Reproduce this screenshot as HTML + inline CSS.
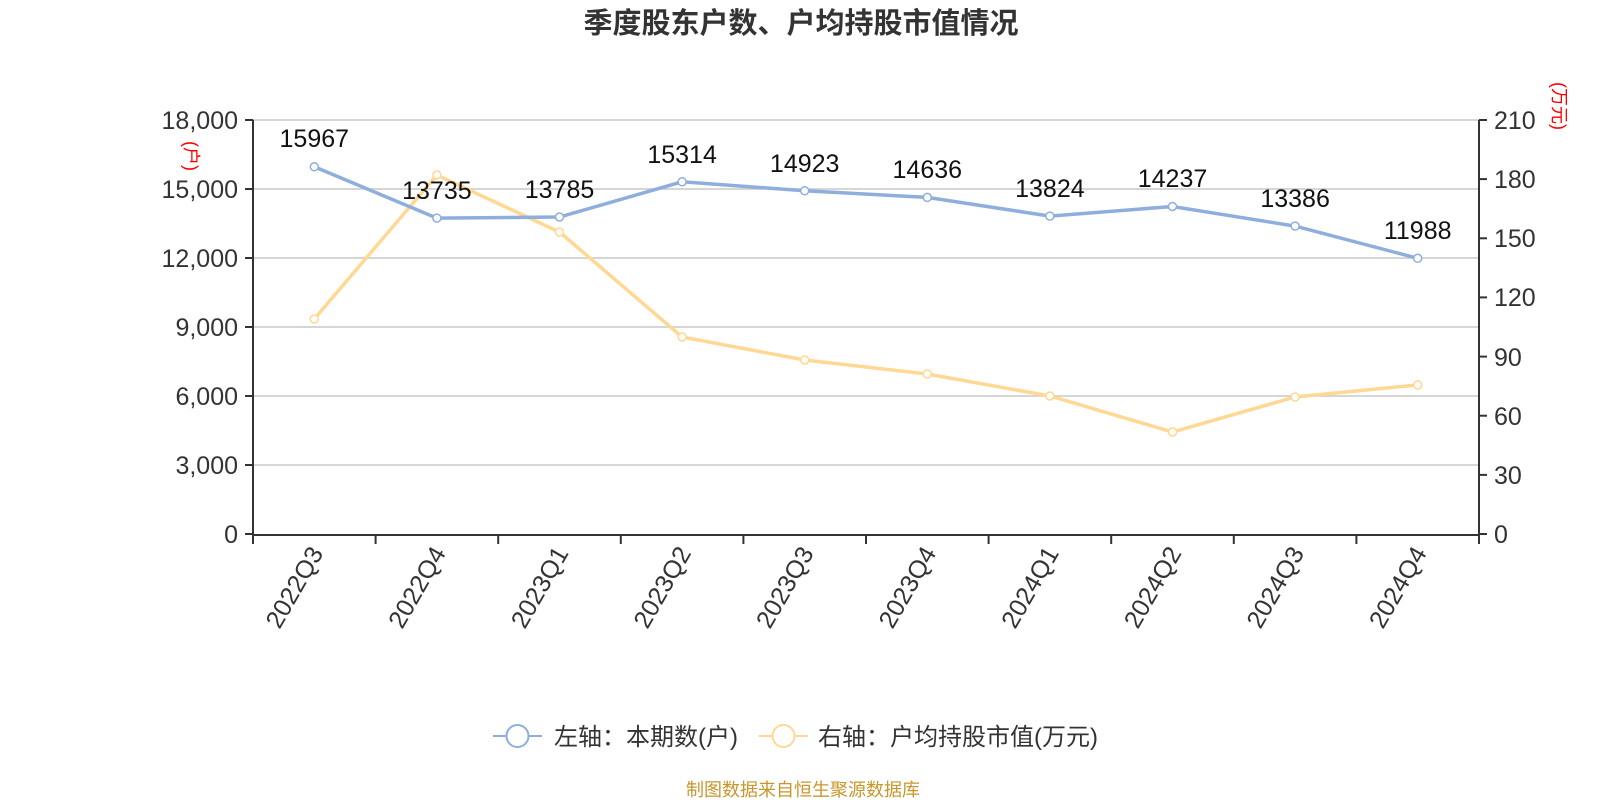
<!DOCTYPE html>
<html><head><meta charset="utf-8"><style>body{margin:0;background:#fff}svg{display:block}text{font-family:"Liberation Sans","Noto Sans CJK SC",sans-serif}</style></head>
<body>
<svg width="1600" height="800" xmlns="http://www.w3.org/2000/svg">
<text x="801" y="33" text-anchor="middle" font-size="29" font-weight="bold" fill="#333">季度股东户数、户均持股市值情况</text>
<g stroke="#c8c8c8" stroke-width="1.5">
<line x1="253" y1="120" x2="1479" y2="120"/><line x1="253" y1="189" x2="1479" y2="189"/><line x1="253" y1="258" x2="1479" y2="258"/><line x1="253" y1="327" x2="1479" y2="327"/><line x1="253" y1="396" x2="1479" y2="396"/><line x1="253" y1="465" x2="1479" y2="465"/>
</g>
<g stroke="#333" stroke-width="2">
<line x1="253" y1="120" x2="253" y2="535"/><line x1="1479" y1="120" x2="1479" y2="535"/><line x1="253" y1="535" x2="1479" y2="535"/>
<line x1="245" y1="120" x2="253" y2="120"/><line x1="245" y1="189" x2="253" y2="189"/><line x1="245" y1="258" x2="253" y2="258"/><line x1="245" y1="327" x2="253" y2="327"/><line x1="245" y1="396" x2="253" y2="396"/><line x1="245" y1="465" x2="253" y2="465"/><line x1="245" y1="534" x2="253" y2="534"/>
<line x1="1479" y1="120" x2="1487" y2="120"/><line x1="1479" y1="179.1" x2="1487" y2="179.1"/><line x1="1479" y1="238.3" x2="1487" y2="238.3"/><line x1="1479" y1="297.4" x2="1487" y2="297.4"/><line x1="1479" y1="356.6" x2="1487" y2="356.6"/><line x1="1479" y1="415.7" x2="1487" y2="415.7"/><line x1="1479" y1="474.9" x2="1487" y2="474.9"/><line x1="1479" y1="534" x2="1487" y2="534"/>
<line x1="253" y1="535" x2="253" y2="544"/><line x1="375.6" y1="535" x2="375.6" y2="544"/><line x1="498.2" y1="535" x2="498.2" y2="544"/><line x1="620.8" y1="535" x2="620.8" y2="544"/><line x1="743.4" y1="535" x2="743.4" y2="544"/><line x1="866" y1="535" x2="866" y2="544"/><line x1="988.6" y1="535" x2="988.6" y2="544"/><line x1="1111.2" y1="535" x2="1111.2" y2="544"/><line x1="1233.8" y1="535" x2="1233.8" y2="544"/><line x1="1356.4" y1="535" x2="1356.4" y2="544"/><line x1="1479" y1="535" x2="1479" y2="544"/>
</g>
<g font-size="25" fill="#333" text-anchor="end">
<text x="238" y="129">18,000</text><text x="238" y="198">15,000</text><text x="238" y="267">12,000</text><text x="238" y="336">9,000</text><text x="238" y="405">6,000</text><text x="238" y="474">3,000</text><text x="238" y="543">0</text>
</g>
<g font-size="25" fill="#333">
<text x="1494" y="129">210</text><text x="1494" y="188">180</text><text x="1494" y="247">150</text><text x="1494" y="306">120</text><text x="1494" y="366">90</text><text x="1494" y="425">60</text><text x="1494" y="484">30</text><text x="1494" y="543">0</text>
</g>
<g font-size="25" fill="#333" text-anchor="end">
<text transform="translate(324,553) rotate(-60)">2022Q3</text><text transform="translate(446.6,553) rotate(-60)">2022Q4</text><text transform="translate(569.2,553) rotate(-60)">2023Q1</text><text transform="translate(691.8,553) rotate(-60)">2023Q2</text><text transform="translate(814.4,553) rotate(-60)">2023Q3</text><text transform="translate(937,553) rotate(-60)">2023Q4</text><text transform="translate(1059.6,553) rotate(-60)">2024Q1</text><text transform="translate(1182.2,553) rotate(-60)">2024Q2</text><text transform="translate(1304.8,553) rotate(-60)">2024Q3</text><text transform="translate(1427.4,553) rotate(-60)">2024Q4</text>
</g>
<text transform="translate(185,156) rotate(90)" text-anchor="middle" font-size="18" fill="red">(户)</text>
<text transform="translate(1553,106) rotate(90)" text-anchor="middle" font-size="18" fill="red">(万元)</text>
<polyline fill="none" stroke="#ffd894" stroke-width="3.5" points="314.3,319 436.9,175 559.5,232 682.1,337 804.7,360 927.3,374 1049.9,396 1172.5,432 1295.1,397 1417.7,385"/>
<g fill="#fff" stroke="#ffd894" stroke-width="1.5">
<circle cx="314.3" cy="319" r="4"/><circle cx="436.9" cy="175" r="4"/><circle cx="559.5" cy="232" r="4"/><circle cx="682.1" cy="337" r="4"/><circle cx="804.7" cy="360" r="4"/><circle cx="927.3" cy="374" r="4"/><circle cx="1049.9" cy="396" r="4"/><circle cx="1172.5" cy="432" r="4"/><circle cx="1295.1" cy="397" r="4"/><circle cx="1417.7" cy="385" r="4"/>
</g>
<polyline fill="none" stroke="#8eaedd" stroke-width="3.5" points="314.3,166.8 436.9,218.1 559.5,217 682.1,181.8 804.7,190.8 927.3,197.4 1049.9,216.1 1172.5,206.5 1295.1,226.1 1417.7,258.3"/>
<g fill="#fff" stroke="#8eaedd" stroke-width="1.5">
<circle cx="314.3" cy="166.8" r="4"/><circle cx="436.9" cy="218.1" r="4"/><circle cx="559.5" cy="217" r="4"/><circle cx="682.1" cy="181.8" r="4"/><circle cx="804.7" cy="190.8" r="4"/><circle cx="927.3" cy="197.4" r="4"/><circle cx="1049.9" cy="216.1" r="4"/><circle cx="1172.5" cy="206.5" r="4"/><circle cx="1295.1" cy="226.1" r="4"/><circle cx="1417.7" cy="258.3" r="4"/>
</g>
<g font-size="25" fill="#111" text-anchor="middle">
<text x="314.3" y="147">15967</text><text x="436.9" y="199">13735</text><text x="559.5" y="198">13785</text><text x="682.1" y="163">15314</text><text x="804.7" y="172">14923</text><text x="927.3" y="178">14636</text><text x="1049.9" y="197">13824</text><text x="1172.5" y="187">14237</text><text x="1295.1" y="207">13386</text><text x="1417.7" y="239">11988</text>
</g>
<line x1="493" y1="736" x2="542" y2="736" stroke="#8eaedd" stroke-width="2"/><circle cx="517.5" cy="736" r="11" fill="#fff" stroke="#8eaedd" stroke-width="2"/>
<text x="554" y="745" font-size="24" fill="#333">左轴：本期数(户)</text>
<line x1="759" y1="736" x2="808" y2="736" stroke="#ffd894" stroke-width="2"/><circle cx="783.5" cy="736" r="11" fill="#fff" stroke="#ffd894" stroke-width="2"/>
<text x="818" y="745" font-size="24" fill="#333">右轴：户均持股市值(万元)</text>
<text x="803" y="796" text-anchor="middle" font-size="18" fill="#c8962a">制图数据来自恒生聚源数据库</text>
</svg>
</body></html>
